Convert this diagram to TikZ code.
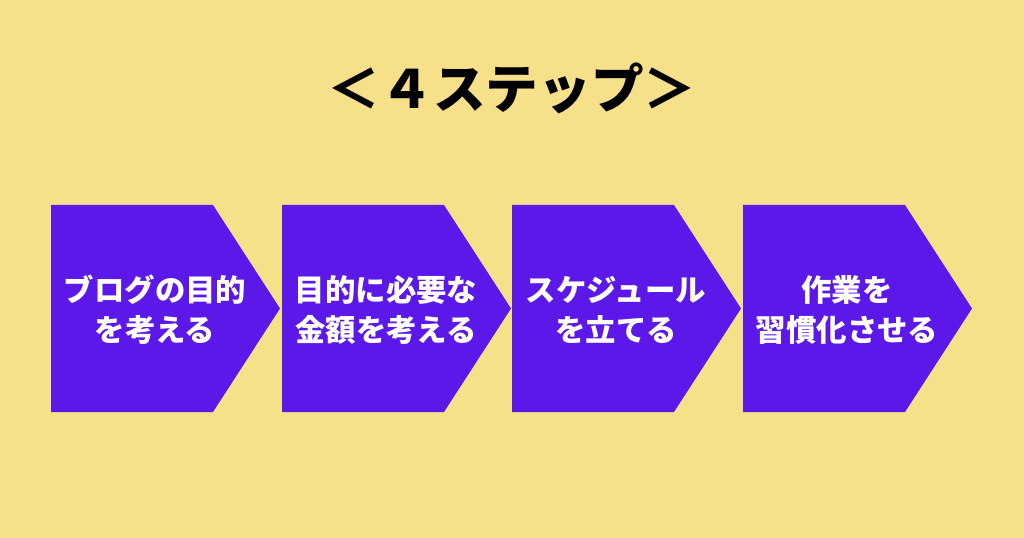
\documentclass[tikz,border=0pt]{standalone}
\usepackage{fontspec}
\newfontfamily\jp{Noto Sans CJK JP}
\definecolor{bgyellow}{RGB}{246,224,138}
\definecolor{steppurple}{RGB}{91,24,232}
\newcommand{\stepchevron}[3]{\fill[steppurple] (#1,205) -- ++(162,0) -- ++(67,103.5) -- ++(-67,103.5) -- ++(-162,0) -- cycle;
	\node[steptext] at (#1+104,310) (#2) {#3}}

\begin{document}
\begin{tikzpicture}[x=0.75pt,y=-0.75pt,
		steptext/.style={align=center,text=white,inner sep=0pt,font=\jp\bfseries\fontsize{22.8}{30}\selectfont},
		titletext/.style={inner sep=0pt,font=\jp\bfseries\fontsize{39.5}{42}\selectfont}]
					\fill[bgyellow] (0,0) rectangle (1024,538);
					\useasboundingbox (0,0) rectangle (1024,538);
					
					\node[titletext] at (512,88) (title) {＜４ステップ＞};
					
					\stepchevron{51}{s1}{ブログの目的\\を考える};
					\stepchevron{282}{s2}{目的に必要な\\金額を考える};
					\stepchevron{512}{s3}{スケジュール\\を立てる};
					\stepchevron{743}{s4}{作業を\\習慣化させる};
				\end{tikzpicture}
\end{document}
